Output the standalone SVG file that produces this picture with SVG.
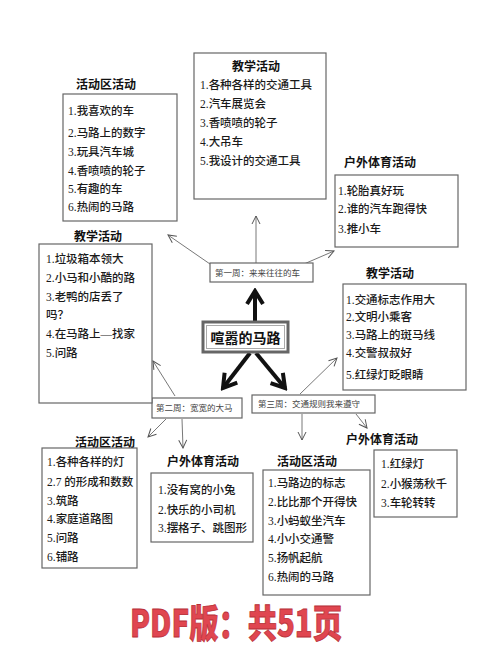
<svg xmlns="http://www.w3.org/2000/svg" width="500" height="666" viewBox="0 0 500 666">
<style>
.box{fill:#fff;stroke:#666;stroke-width:1.2}
.t{font-family:"Noto Sans CJK SC","Liberation Sans",sans-serif;font-size:12px;font-weight:bold;fill:#111;text-anchor:middle}
.i{font-family:"Liberation Serif","Noto Sans CJK SC",serif;font-size:11.5px;font-weight:500;fill:#1a1a1a}
.w{font-family:"Liberation Serif","Noto Sans CJK SC",serif;font-size:8.5px;fill:#444}
.thin{stroke:#555;stroke-width:0.8;fill:none;marker-end:url(#ah)}
.thick{stroke:#111;stroke-width:4;fill:none;marker-end:url(#ahb)}
</style>
<defs>
<marker id="ah" markerUnits="userSpaceOnUse" markerWidth="10" markerHeight="10" viewBox="0 0 10 10" refX="9" refY="5" orient="auto">
<path d="M1,1 L9,5 L1,9" fill="none" stroke="#555" stroke-width="1"/>
</marker>
<marker id="ahb" markerUnits="userSpaceOnUse" markerWidth="20" markerHeight="20" viewBox="0 0 20 20" refX="17" refY="10" orient="auto">
<path d="M4,2 L17,10 L4,18" fill="none" stroke="#111" stroke-width="4" stroke-linecap="butt"/>
</marker>
</defs>
<rect width="500" height="666" fill="#fff"/>

<g id="connectors">
<line class="thin" x1="256" y1="263" x2="256" y2="216"/>
<line class="thin" x1="210" y1="264" x2="168" y2="235"/>
<line class="thin" x1="297" y1="267" x2="334" y2="251"/>
<line class="thin" x1="175" y1="396" x2="153" y2="361"/>
<line class="thin" x1="300" y1="394" x2="337" y2="358"/>
<line class="thin" x1="166" y1="419" x2="148" y2="437"/>
<line class="thin" x1="182" y1="419" x2="183" y2="448"/>
<line class="thin" x1="302" y1="414" x2="302" y2="440"/>
<line class="thin" x1="356" y1="414" x2="367" y2="428"/>
<line class="thick" x1="255" y1="322" x2="255" y2="291"/>
<line class="thick" x1="250" y1="353" x2="223" y2="388"/>
<line class="thick" x1="256" y1="353" x2="285" y2="388"/>
</g>

<g id="center">
<rect x="203" y="322" width="85" height="30" fill="#fff" stroke="#666" stroke-width="3"/>
<rect x="206.5" y="325.5" width="78" height="23" fill="#fff" stroke="#aaa" stroke-width="1"/>
<text x="245.5" y="342.5" font-family="Noto Sans CJK SC,sans-serif" font-size="14" font-weight="bold" fill="#111" text-anchor="middle">喧嚣的马路</text>
</g>

<g id="week1">
<rect class="box" x="210" y="263" width="103" height="19"/>
<text class="w" x="215" y="276">第一周：来来往往的车</text>
</g>
<g id="week2">
<rect class="box" x="152" y="398" width="90" height="20"/>
<text class="w" x="156" y="411">第二周：宽宽的大马</text>
</g>
<g id="week3">
<rect class="box" x="252" y="395" width="123" height="18"/>
<text class="w" x="258" y="407">第三周：交通规则我来遵守</text>
</g>

<g id="top-teach">
<rect class="box" x="194" y="53" width="132" height="146"/>
<text class="t" x="256" y="71">教学活动</text>
<text class="i" x="200" y="89">1.各种各样的交通工具</text>
<text class="i" x="200" y="108">2.汽车展览会</text>
<text class="i" x="200" y="127">3.香喷喷的轮子</text>
<text class="i" x="200" y="146">4.大吊车</text>
<text class="i" x="200" y="165">5.我设计的交通工具</text>
</g>

<g id="top-left-area">
<text class="t" x="106" y="89">活动区活动</text>
<rect class="box" x="63" y="94" width="114" height="127"/>
<text class="i" x="68" y="115">1.我喜欢的车</text>
<text class="i" x="68" y="137">2.马路上的数字</text>
<text class="i" x="68" y="156">3.玩具汽车城</text>
<text class="i" x="68" y="175">4.香喷喷的轮子</text>
<text class="i" x="68" y="193">5.有趣的车</text>
<text class="i" x="68" y="211">6.热闹的马路</text>
</g>

<g id="top-right-sport">
<text class="t" x="380" y="167">户外体育活动</text>
<rect class="box" x="335" y="175" width="123" height="72"/>
<text class="i" x="338" y="195">1.轮胎真好玩</text>
<text class="i" x="338" y="213">2.谁的汽车跑得快</text>
<text class="i" x="338" y="233">3.推小车</text>
</g>

<g id="left-teach">
<text class="t" x="98" y="241">教学活动</text>
<rect class="box" x="39" y="244" width="113" height="159"/>
<text class="i" x="46" y="263">1.垃圾箱本领大</text>
<text class="i" x="46" y="282">2.小马和小酷的路</text>
<text class="i" x="46" y="301">3.老鸭的店丢了</text>
<text class="i" x="46" y="319">吗？</text>
<text class="i" x="46" y="338">4.在马路上—找家</text>
<text class="i" x="46" y="357">5.问路</text>
</g>

<g id="right-teach">
<text class="t" x="390" y="278">教学活动</text>
<rect class="box" x="343" y="284" width="123" height="106"/>
<text class="i" x="346" y="304">1.交通标志作用大</text>
<text class="i" x="346" y="321">2.文明小乘客</text>
<text class="i" x="346" y="339">3.马路上的斑马线</text>
<text class="i" x="346" y="357">4.交警叔叔好</text>
<text class="i" x="346" y="379">5.红绿灯眨眼睛</text>
</g>

<g id="bottom-left-area">
<text class="t" x="105" y="447">活动区活动</text>
<rect class="box" x="42" y="448" width="95" height="120"/>
<text class="i" x="47" y="466">1.各种各样的灯</text>
<text class="i" x="47" y="486">2.7 的形成和数数</text>
<text class="i" x="47" y="505">3.筑路</text>
<text class="i" x="47" y="523">4.家庭道路图</text>
<text class="i" x="47" y="542">5.问路</text>
<text class="i" x="47" y="561">6.铺路</text>
</g>

<g id="bottom-mid-sport">
<text class="t" x="203" y="466">户外体育活动</text>
<rect class="box" x="151" y="473" width="102" height="69"/>
<text class="i" x="158" y="494">1.没有窝的小兔</text>
<text class="i" x="158" y="514">2.快乐的小司机</text>
<text class="i" x="158" y="532">3.摆格子、跳图形</text>
</g>

<g id="bottom-center-area">
<text class="t" x="307" y="466">活动区活动</text>
<rect class="box" x="263" y="470" width="107" height="125"/>
<text class="i" x="268" y="487">1.马路边的标志</text>
<text class="i" x="268" y="506">2.比比那个开得快</text>
<text class="i" x="268" y="525">3.小蚂蚁坐汽车</text>
<text class="i" x="268" y="543">4.小小交通警</text>
<text class="i" x="268" y="562">5.扬帆起航</text>
<text class="i" x="268" y="581">6.热闹的马路</text>
</g>

<g id="bottom-right-sport">
<text class="t" x="382" y="444">户外体育活动</text>
<rect class="box" x="374" y="450" width="83" height="67"/>
<text class="i" x="381" y="468">1.红绿灯</text>
<text class="i" x="381" y="488">2.小猴荡秋千</text>
<text class="i" x="381" y="507">3.车轮转转</text>
</g>

<text x="130" y="637" font-family="Noto Sans CJK SC,sans-serif" font-size="38" font-weight="900" fill="#e04650" stroke="#b83038" stroke-width="0.8" textLength="212" lengthAdjust="spacingAndGlyphs">PDF版：共51页</text>
</svg>
